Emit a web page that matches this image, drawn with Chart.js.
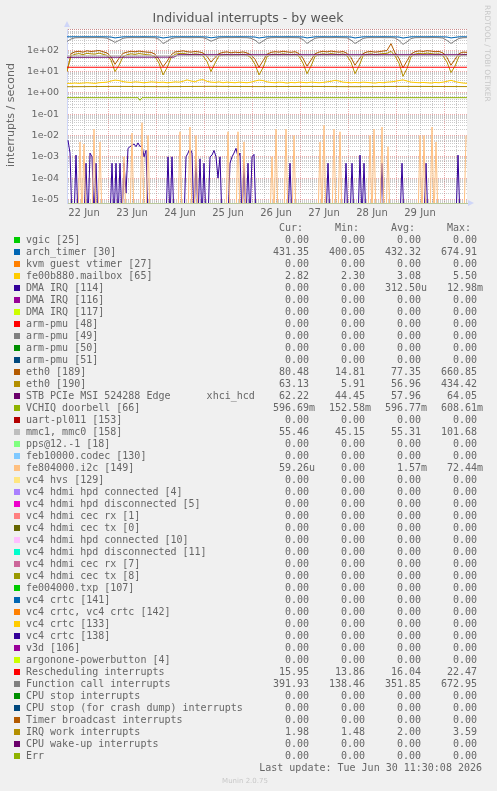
<!DOCTYPE html>
<html lang="en">
<head>
<meta charset="UTF-8">
<title>Individual interrupts - by week</title>
<script src="https://cdn.jsdelivr.net/npm/chart.js"></script>
<style>
  body { margin: 0; background: #f0f0f0; }
  canvas { display: block; }
</style>
</head>
<body>
<canvas id="chart" width="497" height="791"></canvas>
<script>
// x values are hours since 22 Jun 00:00; the graph runs 22 Jun 03:30 .. 30 Jun 11:30
const startHour = 3.5;
const endHour = 203.5;
const hours2 = Array.from({ length: 101 }, (_, i) => startHour + 2 * i); // 2h samples
const hours1 = Array.from({ length: 200 }, (_, i) => 4 + i);             // 1h samples (spiky series)

const dayLabels = ['22 Jun', '23 Jun', '24 Jun', '25 Jun', '26 Jun', '27 Jun', '28 Jun', '29 Jun'];
const dayNoonHours = [12, 36, 60, 84, 108, 132, 156, 180];
const xGridHours = Array.from({ length: 33 }, (_, i) => 6 + 6 * i);

const yMin = 6.8e-6;
const yMax = 1000;
const yDecadeExps = [-5, -4, -3, -2, -1, 0, 1, 2];
const yTickLabels = ['1e-05', '1e-04', '1e-03', '1e-02', '1e-01', '1e+00', '1e+01', '1e+02'];

// ---- series (interrupts / second) ----
const archTimer = [
  431, 432, 433, 431, 432, 434, 432, 431, 433, 432, 428, 420,
  380, 405, 430, 432, 433, 431, 432, 434, 432, 431, 430, 420,
  378, 402, 430, 432, 431, 433, 432, 434, 431, 432, 429, 421,
  385, 410, 431, 432, 433, 431, 432, 434, 432, 431, 428, 420,
  378, 404, 430, 432, 433, 431, 432, 434, 432, 431, 430, 420,
  380, 404, 431, 432, 433, 431, 432, 434, 432, 431, 429, 420,
  378, 405, 430, 432, 433, 431, 432, 434, 432, 431, 428, 420,
  375, 402, 431, 432, 433, 431, 432, 434, 432, 431, 429, 421,
  380, 405, 430, 432, 431
];
const funcCall = [
  260, 340, 385, 392, 395, 390, 393, 396, 392, 390, 370, 300,
  235, 290, 365, 390, 393, 395, 392, 396, 394, 391, 388, 330,
  210, 260, 350, 388, 392, 395, 393, 390, 394, 396, 390, 340,
  265, 320, 380, 392, 395, 393, 396, 394, 392, 390, 365, 300,
  210, 270, 360, 390, 394, 396, 393, 391, 395, 392, 388, 320,
  210, 280, 365, 392, 395, 394, 392, 396, 393, 390, 385, 300,
  210, 270, 360, 390, 394, 392, 396, 393, 391, 394, 380, 290,
  190, 250, 355, 390, 393, 395, 392, 394, 396, 391, 375, 290,
  210, 280, 360, 388, 392
];
const eth189 = [
  10, 70, 85, 90, 82, 95, 88, 92, 98, 86, 75, 50,
  22, 42, 72, 82, 90, 85, 92, 86, 82, 80, 66, 38,
  17, 30, 60, 84, 88, 95, 86, 82, 88, 84, 75, 52,
  28, 46, 70, 80, 84, 76, 82, 78, 84, 75, 60, 38,
  16, 32, 65, 80, 86, 82, 90, 84, 80, 86, 70, 42,
  18, 35, 68, 82, 90, 84, 92, 86, 82, 88, 72, 46,
  20, 38, 70, 84, 88, 82, 86, 92, 98, 205, 75, 42,
  15, 32, 66, 86, 94, 88, 96, 92, 86, 88, 75, 46,
  20, 38, 70, 82, 80
];
const eth190 = [
  10, 55, 65, 70, 62, 72, 68, 66, 74, 65, 58, 35,
  10, 20, 50, 62, 68, 64, 70, 66, 62, 60, 50, 25,
  7, 15, 45, 65, 70, 72, 66, 62, 68, 64, 55, 30,
  10, 25, 55, 60, 64, 58, 62, 60, 65, 58, 45, 22,
  7, 15, 50, 62, 66, 62, 68, 64, 60, 66, 52, 25,
  8, 18, 52, 62, 68, 64, 70, 66, 62, 68, 55, 28,
  8, 18, 55, 64, 68, 62, 66, 70, 72, 90, 55, 25,
  6, 14, 50, 66, 72, 68, 74, 70, 66, 68, 55, 28,
  9, 18, 52, 62, 63
];
const mailbox = [
  2.8, 2.8, 2.9, 2.8, 2.9, 3.0, 2.9, 2.8, 3.0, 3.1, 3.2, 3.6,
  4.0, 3.8, 3.4, 3.2, 3.1, 3.3, 3.2, 3.0, 3.1, 3.3, 3.2, 3.1,
  3.2, 3.0, 3.1, 3.3, 3.2, 3.5, 4.1, 3.6, 3.3, 4.0, 4.2, 3.5,
  3.2, 3.1, 3.3, 3.0, 3.2, 3.1, 3.0, 3.2, 3.1, 3.0, 3.2, 3.6,
  4.0, 3.8, 3.3, 3.1, 3.0, 3.2, 3.1, 2.9, 3.1, 3.0, 3.2, 3.1,
  3.0, 3.2, 3.1, 3.0, 3.1, 3.3, 3.5, 3.9, 3.6, 3.2, 3.1, 3.0,
  3.1, 3.0, 3.2, 3.1, 3.0, 2.9, 3.1, 3.0, 3.2, 3.3, 3.5, 3.8,
  4.1, 3.6, 3.2, 3.1, 3.0, 3.1, 3.0, 2.9, 3.1, 3.0, 3.2, 3.5,
  3.9, 3.4, 3.1, 2.9, 2.8
];
const dma114 = [
  6e-3, 1.5e-3, 0, 0, 1.2e-3, 0, 0, 0, 0, 5e-4, 0, 1.5e-3, 1e-3, 0, 5e-4, 0, 0, 0, 0, 0,
  0, 0, 5e-4, 0, 5e-4, 0, 5e-4, 0, 5e-4, 2e-5, 2.5e-3, 3e-3, 3.5e-3, 4e-3, 3e-3, 4.5e-3, 3e-3, 3.5e-3, 1e-3, 2e-3,
  0, 0, 0, 0, 0, 0, 0, 0, 0, 0, 1e-3, 0, 1e-3, 0, 0, 0, 0, 0, 0, 1e-3,
  1.5e-3, 2.5e-3, 1.5e-3, 0, 1e-3, 0, 8e-4, 0, 5e-4, 0, 0, 1e-3, 1.2e-3, 2e-3, 1e-3, 1e-4, 1e-3, 0, 0, 0,
  0, 5e-4, 1e-3, 1.5e-3, 2.5e-3, 1e-3, 1.5e-3, 0, 5e-4, 0, 5e-4, 0, 1e-3, 1.3e-3, 0, 0, 0, 0, 0, 0,
  0, 0, 0, 0, 0, 0, 0, 0, 0, 0, 0, 5e-4, 0, 0, 0, 0, 0, 0, 0, 0,
  0, 0, 0, 0, 0, 0, 0, 0, 0, 0, 5e-4, 0, 0, 0, 0, 0, 0, 0, 0, 5e-4,
  0, 0, 5e-4, 0, 0, 0, 1.2e-3, 0, 5e-4, 0, 0, 0, 0, 0, 0, 0, 0, 5e-4, 0, 0,
  0, 0, 0, 0, 0, 0, 0, 5e-4, 0, 0, 0, 0, 0, 0, 0, 0, 0, 0, 0, 5e-4,
  0, 0, 0, 0, 0, 0, 0, 0, 0, 0, 0, 0, 0, 0, 0, 1.2e-3, 0, 0, 0, 0
];
const i2c = [
  0, 0, 0, 0, 0, 0, 5e-3, 0, 4e-3, 0, 0, 0, 0, 2e-2, 0, 0, 5e-3, 0, 0, 0,
  0, 0, 0, 0, 0, 0, 0, 0, 1e-3, 0, 0, 0, 1.3e-2, 0, 0, 0, 0, 4e-2, 0, 0,
  1e-2, 0, 0, 0, 0, 0, 0, 0, 0, 0, 0, 0, 0, 0, 0, 0, 1.5e-2, 0, 0, 0,
  0, 2.5e-2, 0, 0, 1e-2, 0, 0, 0, 0, 0, 0, 0, 0, 0, 0, 0, 0, 0, 0, 0,
  1.5e-2, 0, 0, 0, 0, 1.5e-2, 0, 0, 5e-3, 0, 0, 0, 0, 0, 0, 0, 0, 0, 0, 0,
  0, 0, 1e-3, 0, 2e-2, 0, 0, 0, 0, 2e-2, 0, 0, 0, 1e-2, 0, 0, 0, 0, 0, 0,
  0, 0, 0, 0, 0, 0, 5e-3, 0, 3e-2, 0, 0, 0, 0, 2e-2, 0, 0, 1.5e-2, 0, 0, 0,
  0, 0, 0, 0, 0, 0, 0, 0, 0, 0, 0, 1e-2, 0, 2e-2, 0, 0, 0, 2.5e-2, 0, 0,
  3e-3, 0, 0, 0, 0, 0, 0, 0, 0, 0, 0, 0, 0, 0, 0, 0, 1e-2, 0, 1e-2, 0,
  0, 0, 2.5e-2, 0, 5e-3, 0, 0, 0, 0, 0, 0, 0, 0, 0, 0, 0, 0, 0, 0, 1e-2
];
const stbHours = [3.5, 57, 59, 203.5];
const stbPcie = [47, 48, 62, 62];
const vchiqHours = [3.5, 39, 40, 41, 203.5];
const vchiq = [0.597, 0.597, 0.45, 0.597, 0.597];
const mmcHours = [3.5, 203.5];
const mmc = [55.3, 55.4];
const reschedHours = [3.5, 203.5];
const resched = [16.0, 16.0];
const irqWorkHours = [3.5, 27.5, 51.5, 75.5, 99.5, 123.5, 147.5, 171.5, 195.5, 203.5];
const irqWork = [1.95, 2.02, 1.97, 2.03, 1.98, 2.01, 1.96, 2.02, 1.99, 1.98];

// ---- legend table ----
const legendNames = [
  'vgic [25]', 'arch_timer [30]', 'kvm guest vtimer [27]', 'fe00b880.mailbox [65]',
  'DMA IRQ [114]', 'DMA IRQ [116]', 'DMA IRQ [117]', 'arm-pmu [48]', 'arm-pmu [49]',
  'arm-pmu [50]', 'arm-pmu [51]', 'eth0 [189]', 'eth0 [190]',
  'STB PCIe MSI 524288 Edge      xhci_hcd', 'VCHIQ doorbell [66]', 'uart-pl011 [153]',
  'mmc1, mmc0 [158]', 'pps@12.-1 [18]', 'feb10000.codec [130]', 'fe804000.i2c [149]',
  'vc4 hvs [129]', 'vc4 hdmi hpd connected [4]', 'vc4 hdmi hpd disconnected [5]',
  'vc4 hdmi cec rx [1]', 'vc4 hdmi cec tx [0]', 'vc4 hdmi hpd connected [10]',
  'vc4 hdmi hpd disconnected [11]', 'vc4 hdmi cec rx [7]', 'vc4 hdmi cec tx [8]',
  'fe004000.txp [107]', 'vc4 crtc [141]', 'vc4 crtc, vc4 crtc [142]', 'vc4 crtc [133]',
  'vc4 crtc [138]', 'v3d [106]', 'argonone-powerbutton [4]', 'Rescheduling interrupts',
  'Function call interrupts', 'CPU stop interrupts', 'CPU stop (for crash dump) interrupts',
  'Timer broadcast interrupts', 'IRQ work interrupts', 'CPU wake-up interrupts', 'Err'
];
const legendColors = [
  '#00cc00', '#0066b3', '#ff8000', '#ffcc00', '#330099', '#990099', '#ccff00', '#ff0000',
  '#808080', '#008f00', '#00487d', '#b35a00', '#b38f00', '#6b006b', '#8fb300', '#b30000',
  '#bebebe', '#80ff80', '#80c9ff', '#ffc080', '#ffe680', '#aa80ff', '#ee00cc', '#ff8080',
  '#666600', '#ffbfff', '#00ffcc', '#cc6699', '#999900', '#00cc00', '#0066b3', '#ff8000',
  '#ffcc00', '#330099', '#990099', '#ccff00', '#ff0000', '#808080', '#008f00', '#00487d',
  '#b35a00', '#b38f00', '#6b006b', '#8fb300'
];
const Z = '0.00';
const curVals = [Z, '431.35', Z, '2.82', Z, Z, Z, Z, Z, Z, Z, '80.48', '63.13', '62.22', '596.69m', Z,
  '55.46', Z, Z, '59.26u', Z, Z, Z, Z, Z, Z, Z, Z, Z, Z, Z, Z, Z, Z, Z, Z,
  '15.95', '391.93', Z, Z, Z, '1.98', Z, Z];
const minVals = [Z, '400.05', Z, '2.30', Z, Z, Z, Z, Z, Z, Z, '14.81', '5.91', '44.45', '152.58m', Z,
  '45.15', Z, Z, Z, Z, Z, Z, Z, Z, Z, Z, Z, Z, Z, Z, Z, Z, Z, Z, Z,
  '13.86', '138.46', Z, Z, Z, '1.48', Z, Z];
const avgVals = [Z, '432.32', Z, '3.08', '312.50u', Z, Z, Z, Z, Z, Z, '77.35', '56.96', '57.96', '596.77m', Z,
  '55.31', Z, Z, '1.57m', Z, Z, Z, Z, Z, Z, Z, Z, Z, Z, Z, Z, Z, Z, Z, Z,
  '16.04', '351.85', Z, Z, Z, '2.00', Z, Z];
const maxVals = [Z, '674.91', Z, '5.50', '12.98m', Z, Z, Z, Z, Z, Z, '660.85', '434.42', '64.05', '608.61m', Z,
  '101.68', Z, Z, '72.44m', Z, Z, Z, Z, Z, Z, Z, Z, Z, Z, Z, Z, Z, Z, Z, Z,
  '22.47', '672.95', Z, Z, Z, '3.59', Z, Z];
const columnHeads = ['Cur:', 'Min:', 'Avg:', 'Max:'];
const lastUpdate = 'Last update: Tue Jun 30 11:30:08 2026';

// log axis cannot show 0: rrdtool pushes it below the floor, so do the same
const zeroFloor = 1e-6;
function line(field, xs, ys) {
  return {
    label: legendNames[field],
    borderColor: legendColors[field],
    borderWidth: 1,
    borderJoinStyle: 'round',
    pointRadius: 0,
    tension: 0,
    fill: false,
    order: -field, // later fields are painted on top, as in munin
    data: xs.map((x, i) => ({ x, y: ys[i] > 0 ? ys[i] : zeroFloor }))
  };
}

const datasets = [
  line(1, hours2, archTimer),
  line(3, hours2, mailbox),
  line(4, hours1, dma114),
  line(11, hours2, eth189),
  line(12, hours2, eth190),
  line(13, stbHours, stbPcie),
  line(14, vchiqHours, vchiq),
  line(16, mmcHours, mmc),
  line(19, hours1, i2c),
  line(36, reschedHours, resched),
  line(37, hours2, funcCall),
  line(41, irqWorkHours, irqWork)
];

// y grid: every 1..9 step of each decade, labelled on the decades only
const yGridTicks = [];
for (let e = -6; e <= 2; e++) {
  for (let k = 1; k <= 9; k++) {
    const v = k * Math.pow(10, e);
    if (v < yMin || v > yMax) continue;
    const d = yDecadeExps.indexOf(e);
    yGridTicks.push({ value: v, major: k === 1, text: k === 1 && d >= 0 ? yTickLabels[d] : '' });
  }
}
yGridTicks.push({ value: yMax, major: true, text: '' });

const minorGrid = 'rgba(140,140,140,0.45)';
const majorGrid = 'rgba(210,70,70,0.45)';
const fontColor = '#666';

const muninPlugin = {
  id: 'munin',
  beforeDraw(chart) {
    const { ctx, chartArea: a } = chart;
    ctx.save();
    ctx.fillStyle = '#f0f0f0';
    ctx.fillRect(0, 0, chart.width, chart.height);
    ctx.fillStyle = '#ffffff';
    ctx.fillRect(a.left, a.top, a.right - a.left, a.bottom - a.top);
    ctx.restore();
  },
  afterDraw(chart) {
    const { ctx, chartArea: a } = chart;
    ctx.save();

    // title
    ctx.fillStyle = '#555';
    ctx.font = "12.5px 'DejaVu Sans'";
    ctx.textAlign = 'center';
    ctx.textBaseline = 'middle';
    ctx.fillText('Individual interrupts - by week', 248, 19);

    // vertical axis title
    ctx.save();
    ctx.translate(11, 115);
    ctx.rotate(-Math.PI / 2);
    ctx.fillStyle = fontColor;
    ctx.font = "11px 'DejaVu Sans'";
    ctx.fillText('interrupts / second', 0, 0);
    ctx.restore();

    // rrdtool watermark on the right
    ctx.save();
    ctx.translate(487, 5);
    ctx.rotate(Math.PI / 2);
    ctx.fillStyle = '#c8c8c8';
    ctx.font = "7.5px 'DejaVu Sans'";
    ctx.textAlign = 'left';
    ctx.fillText('RRDTOOL / TOBI OETIKER', 0, 0);
    ctx.restore();

    // axis arrows
    ctx.fillStyle = '#cfd6f8';
    ctx.beginPath();
    ctx.moveTo(a.left - 3, a.top - 2);
    ctx.lineTo(a.left + 3, a.top - 2);
    ctx.lineTo(a.left, a.top - 8);
    ctx.closePath();
    ctx.fill();
    ctx.beginPath();
    ctx.moveTo(a.right + 1, a.bottom - 3);
    ctx.lineTo(a.right + 1, a.bottom + 3);
    ctx.lineTo(a.right + 7, a.bottom);
    ctx.closePath();
    ctx.fill();

    // legend table
    const colRight = [309, 365, 421, 477];
    ctx.font = "10px 'DejaVu Sans Mono'";
    ctx.fillStyle = fontColor;
    ctx.textAlign = 'right';
    columnHeads.forEach((h, c) => ctx.fillText(h, colRight[c] - 6, 228));
    const cols = [curVals, minVals, avgVals, maxVals];
    legendNames.forEach((name, r) => {
      const y = 240 + 12 * r;
      ctx.fillStyle = legendColors[r];
      ctx.fillRect(14, y - 3, 6, 6);
      ctx.fillStyle = fontColor;
      ctx.textAlign = 'left';
      ctx.fillText(name, 26, y);
      cols.forEach((vals, c) => {
        let s = vals[r];
        let unit = '';
        if (/[um]$/.test(s)) { unit = s.slice(-1); s = s.slice(0, -1); }
        ctx.textAlign = 'right';
        ctx.fillText(s, colRight[c], y);
        if (unit) { ctx.textAlign = 'left'; ctx.fillText(unit, colRight[c], y); }
      });
    });
    ctx.textAlign = 'right';
    ctx.fillText(lastUpdate, 482, 768);

    ctx.fillStyle = '#c8c8c8';
    ctx.font = "7px 'DejaVu Sans'";
    ctx.textAlign = 'center';
    ctx.fillText('Munin 2.0.75', 245, 781);
    ctx.restore();
  }
};

Chart.defaults.font.family = "'DejaVu Sans', sans-serif";

new Chart(document.getElementById('chart'), {
  type: 'line',
  data: { datasets },
  plugins: [muninPlugin],
  options: {
    responsive: false,
    animation: false,
    events: [],
    layout: { autoPadding: false, padding: { left: 0, top: 29, right: 30, bottom: 568 } },
    plugins: { legend: { display: false }, title: { display: false }, tooltip: { enabled: false } },
    scales: {
      x: {
        type: 'linear',
        min: startHour,
        max: endHour,
        afterFit: s => { s.height = 20; },
        afterBuildTicks: s => { s.ticks = xGridHours.map(v => ({ value: v })); },
        grid: {
          drawTicks: false,
          lineWidth: 1,
          color: c => (c.tick && c.tick.value % 24 === 0) ? majorGrid : minorGrid
        },
        border: { display: true, color: '#b9c99c', width: 1, dash: [1, 1] },
        ticks: {
          autoSkip: false,
          maxRotation: 0,
          minRotation: 0,
          padding: 4,
          color: fontColor,
          font: { size: 10 },
          callback: v => {
            const k = dayNoonHours.indexOf(v);
            return k >= 0 ? dayLabels[k] : '';
          }
        }
      },
      y: {
        type: 'logarithmic',
        min: yMin,
        max: yMax,
        afterFit: s => { s.width = 67; },
        afterBuildTicks: s => { s.ticks = yGridTicks.map(t => ({ ...t })); },
        grid: {
          drawTicks: false,
          lineWidth: 1,
          color: c => (c.tick && c.tick.major) ? majorGrid : minorGrid
        },
        border: { display: true, color: '#cfd6f8', width: 1, dash: [1, 1] },
        ticks: {
          autoSkip: false,
          padding: 8,
          color: fontColor,
          font: { size: 9.5 },
          callback: (v, i, ticks) => ticks[i].text || ''
        }
      }
    }
  }
});
</script>
</body>
</html>
